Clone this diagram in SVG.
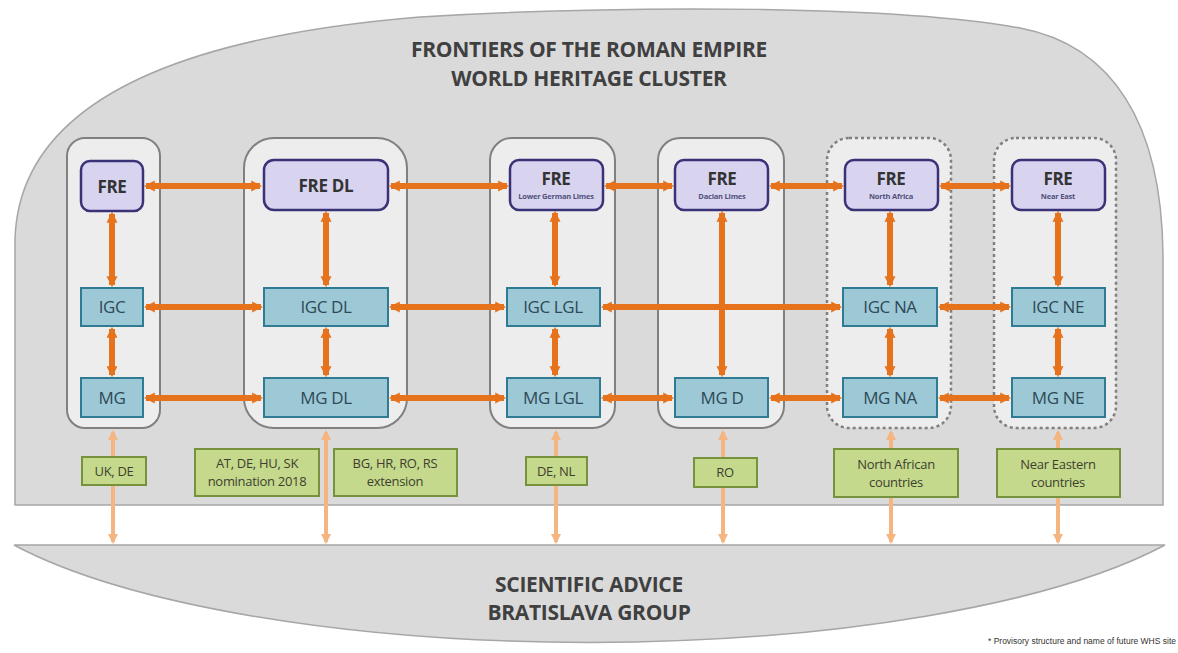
<svg xmlns="http://www.w3.org/2000/svg" width="1178" height="653" viewBox="0 0 1178 653">
<defs>
<style>
.bg{fill:#dadada;stroke:#a6a6a6;stroke-width:1.5}
.col{fill:#ededed;stroke:#808080;stroke-width:2}
.colD{fill:#ededed;stroke:#808080;stroke-width:2.5;stroke-dasharray:3 3}
.fre{fill:#d8d4f0;stroke:#3a3277;stroke-width:2.5}
.grp{fill:#9dc8d6;stroke:#2f7b93;stroke-width:2}
.lab{fill:#c4d98c;stroke:#76923c;stroke-width:2}
.t{font-family:"Open Sans","Noto Sans",sans-serif;text-anchor:middle}
.title{font-size:21px;font-weight:bold;fill:#404040;letter-spacing:-0.3px}
.fret{font-size:17px;font-weight:bold;fill:#333;letter-spacing:-0.3px}
.fres{font-size:7.5px;font-weight:bold;fill:#50507a;letter-spacing:-0.2px}
.gt{font-size:17px;fill:#2e4a56;letter-spacing:-0.4px}
.lt{font-size:13px;fill:#3f3f2f;letter-spacing:-0.3px}
.a{stroke:#e6731c;stroke-width:6;fill:none;marker-start:url(#ah);marker-end:url(#ah)}
.l{stroke:#f5b581;stroke-width:4;fill:none;marker-start:url(#lh);marker-end:url(#lh)}
</style>
<marker id="ah" viewBox="0 0 10 10" refX="8" refY="5" markerWidth="11" markerHeight="14" markerUnits="userSpaceOnUse" orient="auto-start-reverse"><path d="M0,0 L10,5 L0,10 Z" fill="#e6731c"/></marker>
<marker id="lh" viewBox="0 0 10 10" refX="8" refY="5" markerWidth="10" markerHeight="10" markerUnits="userSpaceOnUse" orient="auto-start-reverse"><path d="M0,0 L10,5 L0,10 Z" fill="#f5b581"/></marker>
</defs>

<g id="cluster">
<path class="bg" d="M15,505 L15,240 C18,120 140,40 420,17 C640,4 900,6 1020,28 C1110,45 1163,120 1163,260 L1163,505 Z"/>
<text class="t title" x="589" y="57">FRONTIERS OF THE ROMAN EMPIRE</text>
<text class="t title" x="589" y="86">WORLD HERITAGE CLUSTER</text>
</g>

<g id="advice">
<path class="bg" d="M14,545 L1165,545 A650,182 0 0 1 14,545 Z"/>
<text class="t title" x="589" y="592">SCIENTIFIC ADVICE</text>
<text class="t title" x="589" y="620">BRATISLAVA GROUP</text>
</g>

<g id="containers">
<rect class="col" x="67" y="138" width="93" height="290" rx="18"/>
<rect class="col" x="244" y="138" width="163" height="290" rx="30"/>
<rect class="col" x="490" y="138" width="125" height="290" rx="22"/>
<rect class="col" x="658" y="138" width="126" height="290" rx="22"/>
<rect class="colD" x="827" y="138" width="124" height="290" rx="22"/>
<rect class="colD" x="994" y="138" width="122" height="290" rx="22"/>
</g>

<g id="connectors">
<line class="a" x1="146" y1="186" x2="260" y2="186"/>
<line class="a" x1="391" y1="186" x2="507" y2="186"/>
<line class="a" x1="606" y1="186" x2="672" y2="186"/>
<line class="a" x1="771" y1="186" x2="842" y2="186"/>
<line class="a" x1="941" y1="186" x2="1009" y2="186"/>
<line class="a" x1="146" y1="307" x2="261" y2="307"/>
<line class="a" x1="391" y1="307" x2="504" y2="307"/>
<line class="a" x1="603" y1="307" x2="840" y2="307"/>
<line class="a" x1="940" y1="307" x2="1009" y2="307"/>
<line class="a" x1="146" y1="398" x2="261" y2="398"/>
<line class="a" x1="391" y1="398" x2="504" y2="398"/>
<line class="a" x1="603" y1="398" x2="672" y2="398"/>
<line class="a" x1="771" y1="398" x2="840" y2="398"/>
<line class="a" x1="940" y1="398" x2="1009" y2="398"/>
<line class="a" x1="112" y1="214" x2="112" y2="285"/>
<line class="a" x1="112" y1="329" x2="112" y2="375"/>
<line class="a" x1="326" y1="213" x2="326" y2="285"/>
<line class="a" x1="326" y1="329" x2="326" y2="375"/>
<line class="a" x1="555" y1="213" x2="555" y2="285"/>
<line class="a" x1="555" y1="329" x2="555" y2="375"/>
<line class="a" x1="722" y1="213" x2="722" y2="375"/>
<line class="a" x1="890" y1="213" x2="890" y2="285"/>
<line class="a" x1="890" y1="329" x2="890" y2="375"/>
<line class="a" x1="1058" y1="213" x2="1058" y2="285"/>
<line class="a" x1="1058" y1="329" x2="1058" y2="375"/>
<line class="l" x1="113" y1="432" x2="113" y2="542"/>
<line class="l" x1="326" y1="432" x2="326" y2="542"/>
<line class="l" x1="556" y1="432" x2="556" y2="542"/>
<line class="l" x1="723" y1="432" x2="723" y2="542"/>
<line class="l" x1="891" y1="432" x2="891" y2="542"/>
<line class="l" x1="1058" y1="432" x2="1058" y2="542"/>
</g>

<g id="fre1"><rect class="fre" x="81" y="161" width="62" height="50" rx="9"/><text class="t fret" x="112" y="193">FRE</text></g>
<g id="fre2"><rect class="fre" x="264" y="160" width="124" height="50" rx="10"/><text class="t fret" x="326" y="192">FRE DL</text></g>
<g id="fre3"><rect class="fre" x="510" y="160" width="93" height="50" rx="9"/><text class="t fret" x="556" y="185">FRE</text><text class="t fres" x="556" y="199">Lower German Limes</text></g>
<g id="fre4"><rect class="fre" x="675" y="160" width="93" height="50" rx="9"/><text class="t fret" x="722" y="185">FRE</text><text class="t fres" x="722" y="199">Dacian Limes</text></g>
<g id="fre5"><rect class="fre" x="845" y="160" width="93" height="50" rx="9"/><text class="t fret" x="891" y="185">FRE</text><text class="t fres" x="891" y="199">North Africa</text></g>
<g id="fre6"><rect class="fre" x="1012" y="160" width="93" height="50" rx="9"/><text class="t fret" x="1058" y="185">FRE</text><text class="t fres" x="1058" y="199">Near East</text></g>

<g id="igc1"><rect class="grp" x="81" y="288" width="62" height="38"/><text class="t gt" x="112" y="313">IGC</text></g>
<g id="igc2"><rect class="grp" x="264" y="288" width="124" height="38"/><text class="t gt" x="326" y="313">IGC DL</text></g>
<g id="igc3"><rect class="grp" x="507" y="288" width="93" height="38"/><text class="t gt" x="553" y="313">IGC LGL</text></g>
<g id="igc5"><rect class="grp" x="843" y="288" width="94" height="38"/><text class="t gt" x="890" y="313">IGC NA</text></g>
<g id="igc6"><rect class="grp" x="1012" y="288" width="93" height="38"/><text class="t gt" x="1058" y="313">IGC NE</text></g>

<g id="mg1"><rect class="grp" x="81" y="378" width="62" height="39"/><text class="t gt" x="112" y="404">MG</text></g>
<g id="mg2"><rect class="grp" x="264" y="378" width="124" height="39"/><text class="t gt" x="326" y="404">MG DL</text></g>
<g id="mg3"><rect class="grp" x="507" y="378" width="93" height="39"/><text class="t gt" x="553" y="404">MG LGL</text></g>
<g id="mg4"><rect class="grp" x="675" y="378" width="93" height="39"/><text class="t gt" x="722" y="404">MG D</text></g>
<g id="mg5"><rect class="grp" x="843" y="378" width="94" height="39"/><text class="t gt" x="890" y="404">MG NA</text></g>
<g id="mg6"><rect class="grp" x="1012" y="378" width="93" height="39"/><text class="t gt" x="1058" y="404">MG NE</text></g>

<g id="lab1"><rect class="lab" x="82" y="457" width="64" height="28"/><text class="t lt" x="114" y="476">UK, DE</text></g>
<g id="lab2"><rect class="lab" x="195" y="449" width="124" height="47"/><text class="t lt" x="257" y="468">AT, DE, HU, SK</text><text class="t lt" x="257" y="486">nomination 2018</text></g>
<g id="lab3"><rect class="lab" x="334" y="449" width="123" height="47"/><text class="t lt" x="395" y="468">BG, HR, RO, RS</text><text class="t lt" x="395" y="486">extension</text></g>
<g id="lab4"><rect class="lab" x="526" y="457" width="61" height="28"/><text class="t lt" x="556" y="476">DE, NL</text></g>
<g id="lab5"><rect class="lab" x="694" y="458" width="63" height="29"/><text class="t lt" x="725" y="477">RO</text></g>
<g id="lab6"><rect class="lab" x="834" y="449" width="124" height="48"/><text class="t lt" x="896" y="469">North African</text><text class="t lt" x="896" y="487">countries</text></g>
<g id="lab7"><rect class="lab" x="997" y="449" width="123" height="48"/><text class="t lt" x="1058" y="469">Near Eastern</text><text class="t lt" x="1058" y="487">countries</text></g>

<text x="1176" y="644" text-anchor="end" style="font-family:'Liberation Sans',Arial,sans-serif;font-size:8.5px;fill:#333">* Provisory structure and name of future WHS site</text>
</svg>
